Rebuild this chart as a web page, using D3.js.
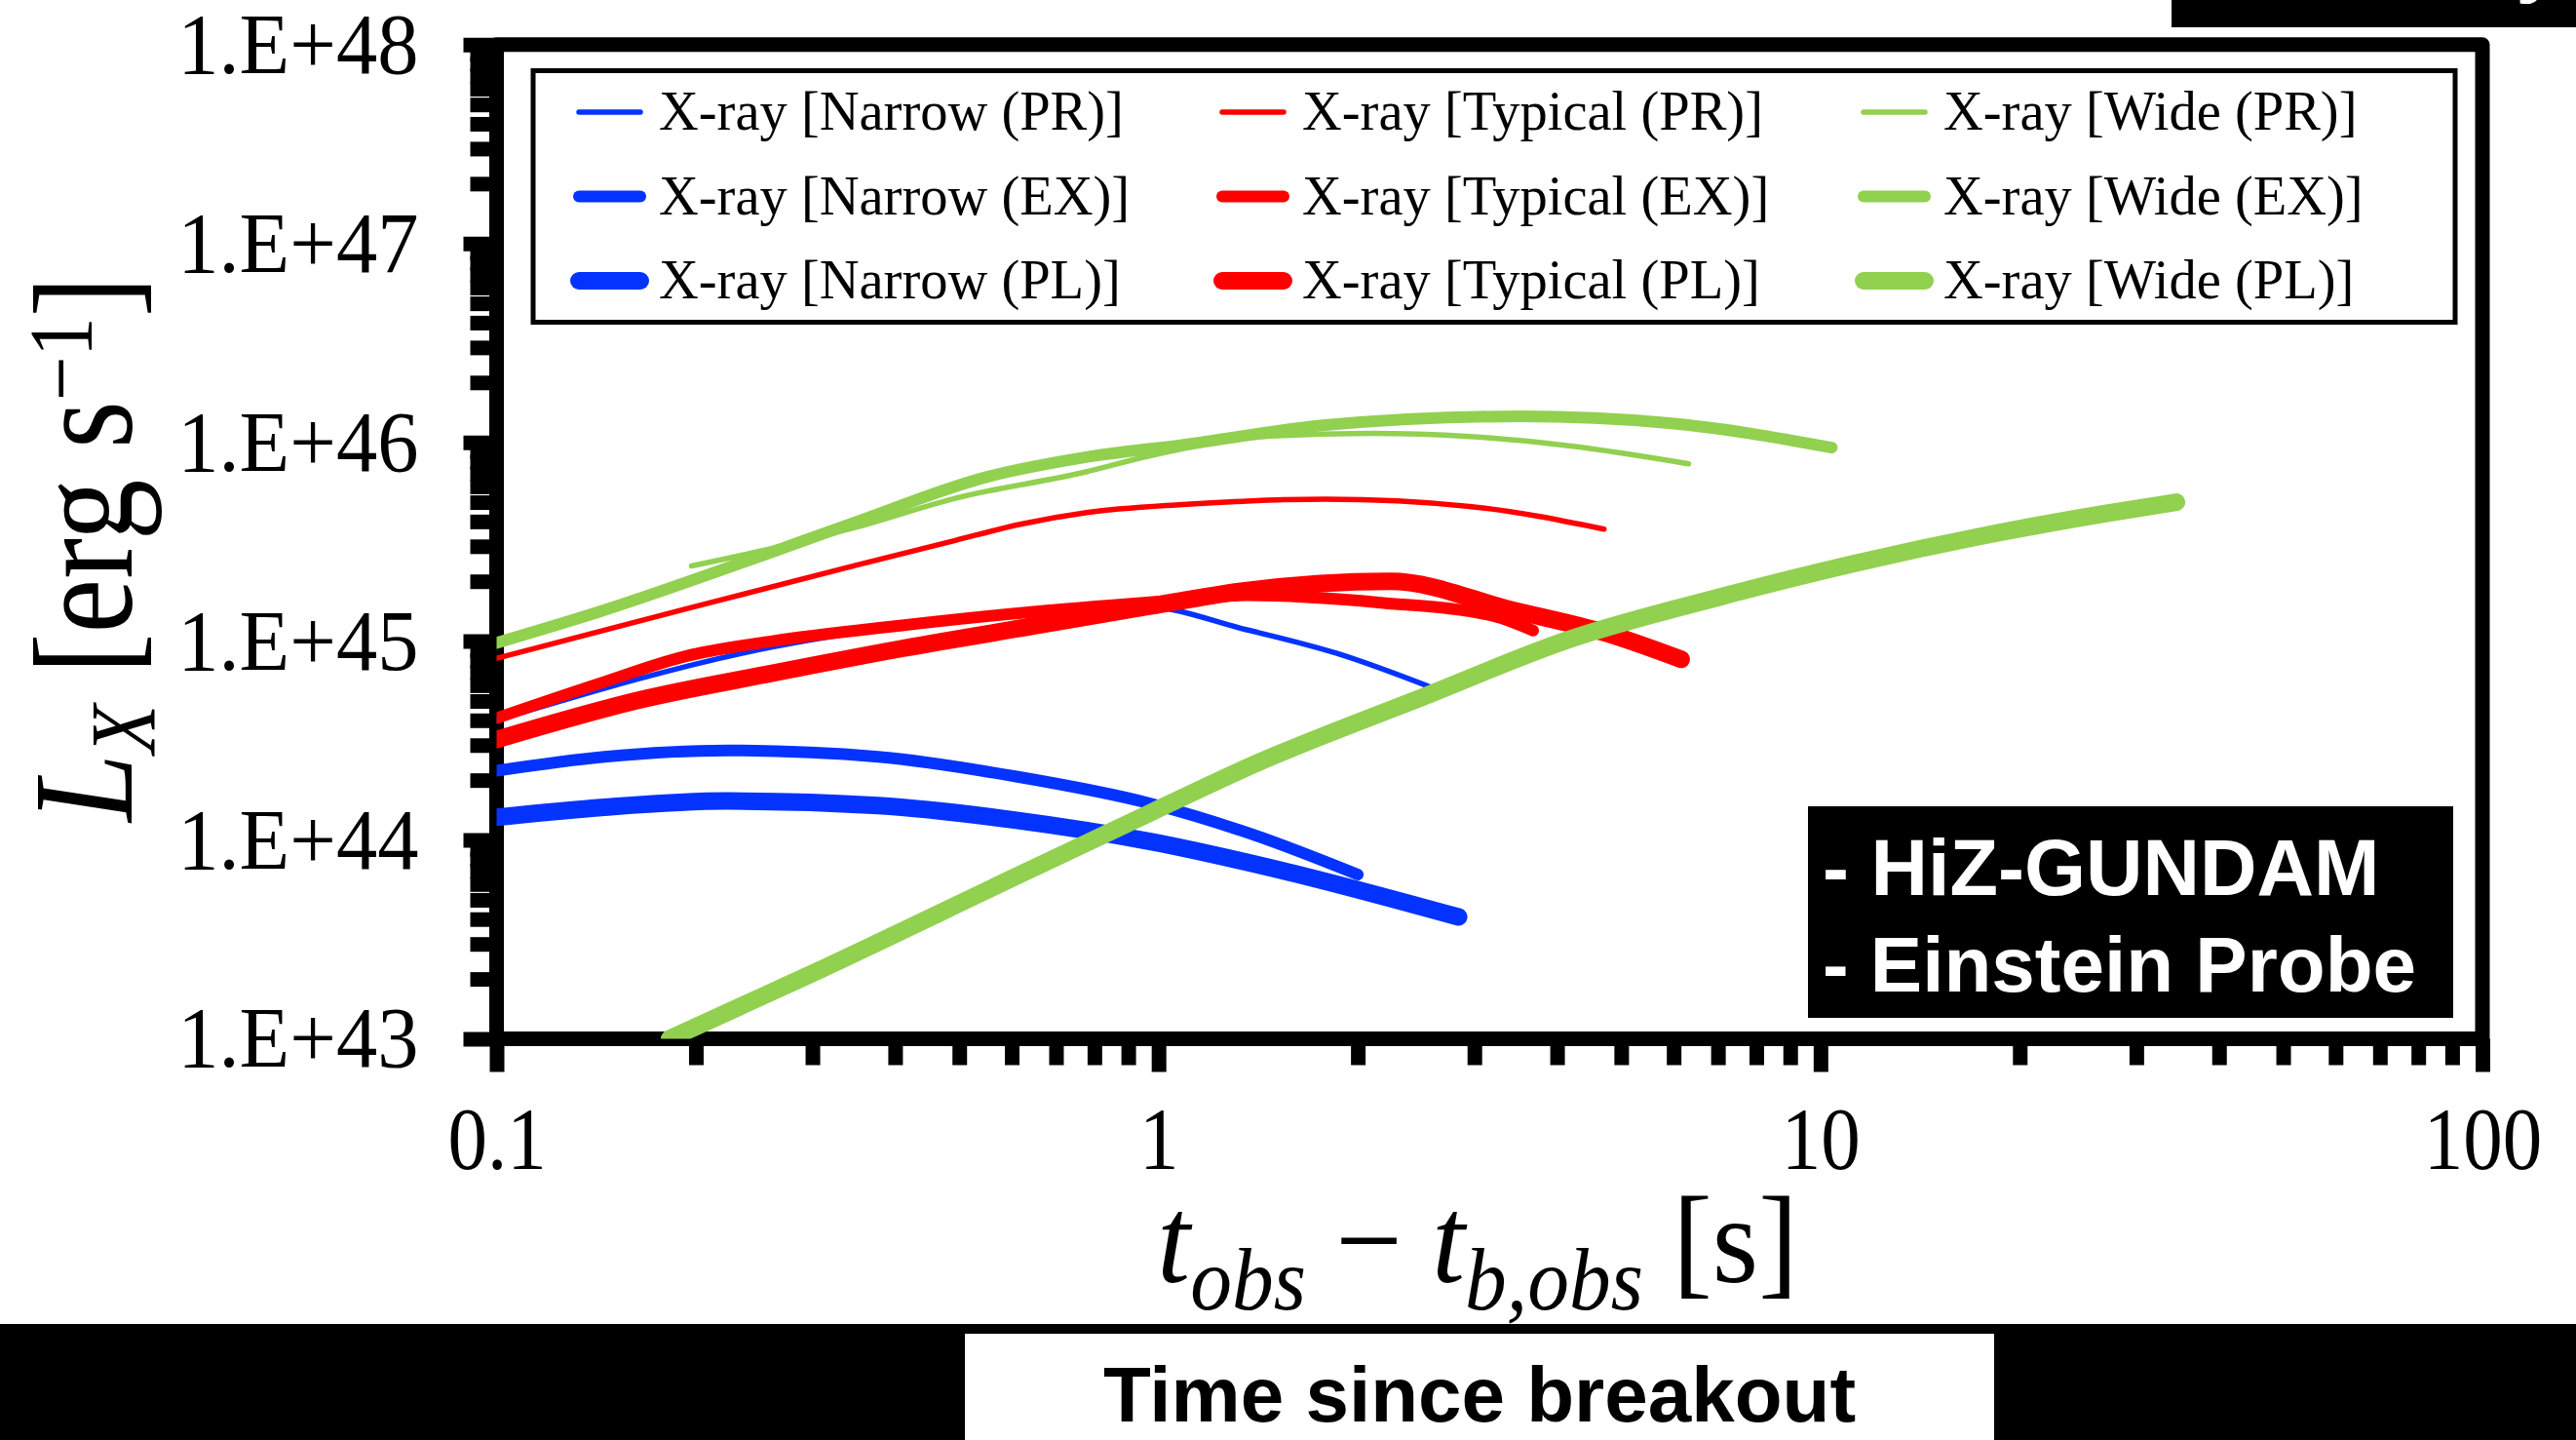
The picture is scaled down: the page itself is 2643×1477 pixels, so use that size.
<!DOCTYPE html>
<html>
<head>
<meta charset="utf-8">
<title>X-ray light curves after shock breakout</title>
<script src="https://cdn.jsdelivr.net/npm/d3@7/dist/d3.min.js"></script>
<style>
  html, body { margin: 0; padding: 0; background: #ffffff; }
  svg { display: block; }
</style>
</head>
<body>
<svg id="chart" width="2643" height="1477"></svg>
<script>
// ---- axis ticks ----
const xTickValues = [0.1, 1, 10, 100];
const xTickLabels = ["0.1", "1", "10", "100"];
const yTickValues = [1e43, 1e44, 1e45, 1e46, 1e47, 1e48];
const yTickLabels = ["1.E+43", "1.E+44", "1.E+45", "1.E+46", "1.E+47", "1.E+48"];

// ---- categories ----
const widthCases = ["Narrow", "Typical", "Wide"];
const models = ["PR", "EX", "PL"];

// ---- light curves: [t_obs - t_b,obs (s), L_X (erg/s)] ----
const narrowPR = [[0.1, 4.0e44], [0.261, 9.35e44], [0.478, 1.27e45], [0.94, 1.5e45],
                  [1.36, 1.14e45], [1.855, 8.7e44], [2.6, 5.8e44]];
const narrowEX = [[0.1, 2.23e44], [0.1456, 2.62e44], [0.223, 2.82e44], [0.377, 2.62e44],
                  [0.607, 2.09e44], [0.976, 1.52e44], [1.394, 1.06e44], [2.0, 6.7e43]];
const narrowPL = [[0.1, 1.30e44], [0.1455, 1.46e44], [0.223, 1.57e44], [0.377, 1.49e44],
                  [0.606, 1.26e44], [0.976, 9.8e43], [1.57, 6.9e43], [2.84, 4.1e43]];

const typicalPR = [[0.1, 8.2e44], [0.193, 1.45e45], [0.351, 2.42e45], [0.493, 3.21e45],
                   [0.618, 3.87e45], [0.774, 4.42e45], [1.086, 4.86e45], [1.787, 5.17e45],
                   [2.95, 4.76e45], [4.71, 3.66e45]];
const typicalEX = [[0.1, 4.1e44], [0.1425, 6.1e44], [0.193, 8.4e44], [0.261, 1.0e45],
                   [0.41, 1.2e45], [0.625, 1.39e45], [0.971, 1.57e45], [1.362, 1.70e45],
                   [2.17, 1.56e45], [3.2, 1.34e45], [3.68, 1.13e45]];
const typicalPL = [[0.1, 3.2e44], [0.166, 5.1e44], [0.261, 6.9e44], [0.411, 9.2e44],
                   [0.646, 1.19e45], [0.971, 1.5e45], [1.362, 1.8e45], [2.236, 2.0e45],
                   [3.46, 1.42e45], [4.73, 1.10e45], [6.16, 8.1e44]];

const widePR = [[0.197, 2.39e45], [0.261, 2.93e45], [0.351, 3.76e45], [0.493, 5.23e45],
                [0.774, 7.08e45], [0.971, 8.55e45], [1.478, 1.075e46], [2.09, 1.11e46],
                [2.95, 1.07e46], [4.17, 9.6e45], [6.32, 7.8e45]];
const wideEX = [[0.1, 9.8e44], [0.1425, 1.40e45], [0.261, 2.81e45], [0.351, 4.0e45],
                [0.551, 6.7e45], [0.774, 8.4e45], [1.086, 9.7e45], [1.787, 1.22e46],
                [3.51, 1.35e46], [5.9, 1.25e46], [10.4, 9.4e45]];
const widePL = [[0.1825, 1e43], [0.297, 2.1e43], [0.606, 6.5e43], [0.976, 1.38e44],
                [1.394, 2.4e44], [2.53, 5.3e44], [4.17, 1.02e45], [7.01, 1.66e45],
                [11.2, 2.45e45], [19.0, 3.56e45], [26.8, 4.37e45], [34.5, 5.0e45]];

// ---- styling ----
const caseColors = { Narrow: "#0433ff", Typical: "#ff0000", Wide: "#92d050" };
const modelWidths = { PR: 5.5, EX: 12, PL: 18 };
const SERIF = "'Liberation Serif', 'Times New Roman', Times, serif";
const SANS = "'Liberation Sans', Arial, Helvetica, sans-serif";

const curves = {
  Narrow:  { PR: narrowPR,  EX: narrowEX,  PL: narrowPL },
  Typical: { PR: typicalPR, EX: typicalEX, PL: typicalPL },
  Wide:    { PR: widePR,    EX: wideEX,    PL: widePL }
};
// back-to-front drawing order
const drawOrder = [
  ["Narrow", "PL"], ["Narrow", "EX"], ["Narrow", "PR"],
  ["Typical", "PR"], ["Typical", "EX"], ["Typical", "PL"],
  ["Wide", "PR"], ["Wide", "EX"], ["Wide", "PL"]
];

const svg = d3.select("#chart");
const plot = { left: 509.5, right: 2547, top: 45.8, bottom: 1065.5 };

const x = d3.scaleLog().domain([0.1, 100]).range([plot.left, plot.right]);
const y = d3.scaleLog().domain([1e43, 1e48]).range([plot.bottom, plot.top]);

const isDecade = v => Math.abs(Math.log10(v) - Math.round(Math.log10(v))) < 1e-9;

// ---- axes: minor ticks ----
svg.append("g").attr("class", "axis")
  .attr("transform", `translate(0,${plot.bottom})`)
  .call(d3.axisBottom(x).tickValues(x.ticks().filter(v => !isDecade(v)))
    .tickSize(27).tickFormat(""));
svg.append("g").attr("class", "axis")
  .attr("transform", `translate(${plot.left},0)`)
  .call(d3.axisLeft(y).tickValues(y.ticks().filter(v => !isDecade(v)))
    .tickSize(27).tickFormat(""));

// ---- axes: major ticks with labels ----
const xAxisG = svg.append("g").attr("class", "axis")
  .attr("transform", `translate(0,${plot.bottom})`)
  .call(d3.axisBottom(x).tickValues(xTickValues).tickSize(34).tickPadding(36)
    .tickFormat((d, i) => xTickLabels[i]));
const yAxisG = svg.append("g").attr("class", "axis")
  .attr("transform", `translate(${plot.left},0)`)
  .call(d3.axisLeft(y).tickValues(yTickValues).tickSize(34).tickPadding(46)
    .tickFormat((d, i) => yTickLabels[i]));

svg.selectAll(".axis .domain").remove();
svg.selectAll(".axis .tick line").attr("stroke", "#000").attr("stroke-width", 15);

xAxisG.selectAll("text")
  .attr("font-family", SERIF).attr("font-size", 90).attr("fill", "#000")
  .each(function () {
    const t = d3.select(this);
    const yy = +t.attr("y");
    t.attr("y", 0).attr("transform", `translate(0,${yy}) scale(0.9,1)`);
  });
yAxisG.selectAll("text")
  .attr("font-family", SERIF).attr("font-size", 89).attr("fill", "#000")
  .each(function () {
    const t = d3.select(this);
    const xx = +t.attr("x");
    t.attr("x", 0).attr("transform", `translate(${xx},0) scale(0.95,1)`);
  });

// ---- plot frame ----
svg.append("rect")
  .attr("x", plot.left).attr("y", plot.top)
  .attr("width", plot.right - plot.left).attr("height", plot.bottom - plot.top)
  .attr("fill", "none").attr("stroke", "#000").attr("stroke-width", 15)
  .attr("stroke-linejoin", "round");

// ---- light curves ----
svg.append("clipPath").attr("id", "plot-clip")
  .append("rect")
  .attr("x", plot.left).attr("y", plot.top)
  .attr("width", plot.right - plot.left).attr("height", plot.bottom - plot.top);

const line = d3.line()
  .x(d => x(d[0]))
  .y(d => y(d[1]))
  .curve(d3.curveMonotoneX);

svg.append("g").attr("clip-path", "url(#plot-clip)")
  .selectAll("path")
  .data(drawOrder)
  .join("path")
  .attr("d", ([c, m]) => line(curves[c][m]))
  .attr("fill", "none")
  .attr("stroke", ([c]) => caseColors[c])
  .attr("stroke-width", ([, m]) => modelWidths[m])
  .attr("stroke-linecap", "round")
  .attr("stroke-linejoin", "round");

// ---- legend ----
const legend = svg.append("g");
legend.append("rect")
  .attr("x", 547).attr("y", 72.5).attr("width", 1972).attr("height", 258)
  .attr("fill", "#fff").attr("stroke", "#000").attr("stroke-width", 5);

const legendCols = [594, 1254, 1912];
const legendRows = [115, 201.5, 288];
widthCases.forEach((c, ci) => {
  models.forEach((m, mi) => {
    const lx = legendCols[ci], ly = legendRows[mi];
    legend.append("line")
      .attr("x1", lx).attr("x2", lx + 63).attr("y1", ly).attr("y2", ly)
      .attr("stroke", caseColors[c]).attr("stroke-width", modelWidths[m])
      .attr("stroke-linecap", "round");
    legend.append("text")
      .attr("x", lx + 82).attr("y", ly + 18)
      .attr("font-family", SERIF).attr("font-size", 56.5).attr("fill", "#000")
      .text(`X-ray [${c} (${m})]`);
  });
});

// ---- mission box ----
svg.append("rect").attr("x", 1855).attr("y", 827).attr("width", 662).attr("height", 217)
  .attr("fill", "#000");
svg.append("text").attr("x", 1870).attr("y", 918)
  .attr("font-family", SANS).attr("font-weight", "bold").attr("font-size", 81)
  .attr("fill", "#fff").text("- HiZ-GUNDAM");
svg.append("text").attr("x", 1870).attr("y", 1017)
  .attr("font-family", SANS).attr("font-weight", "bold").attr("font-size", 80)
  .attr("fill", "#fff").text("- Einstein Probe");

// ---- axis titles ----
const yTitle = svg.append("text")
  .attr("transform", "translate(135,843) rotate(-90) scale(0.86,1)")
  .attr("font-family", SERIF).attr("font-size", 146).attr("fill", "#000");
yTitle.append("tspan").attr("font-style", "italic").text("L");
yTitle.append("tspan").attr("font-style", "italic").attr("font-size", 96).attr("dy", 24).text("X");
yTitle.append("tspan").attr("dy", -24).text(" [erg s");
yTitle.append("tspan").attr("font-size", 94).attr("dy", -41).text("\u22121");
yTitle.append("tspan").attr("dy", 41).text("]");

const xTitle = svg.append("text")
  .attr("transform", "translate(1516,1315) scale(0.95,1)")
  .attr("text-anchor", "middle")
  .attr("font-family", SERIF).attr("font-size", 128).attr("fill", "#000");
xTitle.append("tspan").attr("font-style", "italic").text("t");
xTitle.append("tspan").attr("font-style", "italic").attr("font-size", 90).attr("dy", 28).text("obs");
xTitle.append("tspan").attr("dy", -28).text(" \u2212 ");
xTitle.append("tspan").attr("font-style", "italic").text("t");
xTitle.append("tspan").attr("font-style", "italic").attr("font-size", 90).attr("dy", 28).text("b,obs");
xTitle.append("tspan").attr("dy", -28).text(" [s]");

// ---- caption band ----
svg.append("rect").attr("x", 0).attr("y", 1358).attr("width", 2643).attr("height", 119)
  .attr("fill", "#000");
svg.append("rect").attr("x", 990).attr("y", 1368).attr("width", 1056).attr("height", 109)
  .attr("fill", "#fff");
svg.append("text").attr("x", 1518).attr("y", 1458).attr("text-anchor", "middle")
  .attr("font-family", SANS).attr("font-weight", "bold").attr("font-size", 80)
  .attr("fill", "#000").text("Time since breakout");

// ---- top-right tag ----
svg.append("rect").attr("x", 2228).attr("y", 0).attr("width", 415).attr("height", 28)
  .attr("fill", "#000");
svg.append("text").attr("x", 2626).attr("y", -13).attr("text-anchor", "end")
  .attr("font-family", SANS).attr("font-weight", "bold").attr("font-size", 80)
  .attr("fill", "#fff").text("X-ray");
</script>
</body>
</html>
